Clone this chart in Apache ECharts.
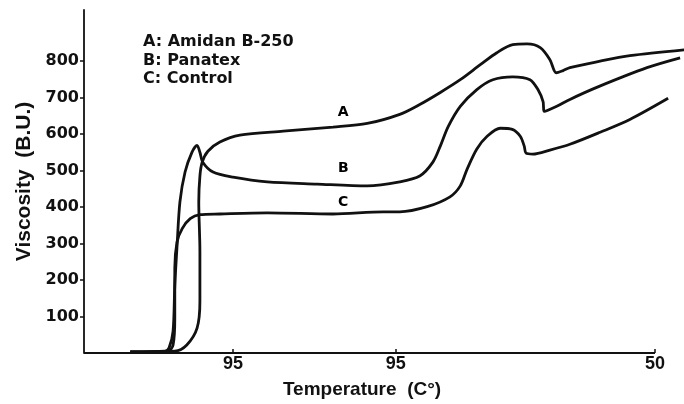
<!DOCTYPE html>
<html>
<head>
<meta charset="utf-8">
<title>Viscosity</title>
<script src="https://cdn.jsdelivr.net/npm/echarts@6/dist/echarts.min.js"></script>
<style>
  html, body { margin: 0; padding: 0; background: #fff; }
  #chart { width: 684px; height: 404px; }
</style>
</head>
<body>
<div id="chart"></div>
<script>
// x is elapsed time of the amylogram run (arbitrary units, 0..100 = drawn axis length)
var seriesLetters = ['A', 'B', 'C']
var seriesNames = ['Amidan B-250', 'Panatex', 'Control']

var amidanA = [
  [8.1, 3], [15.9, 5], [18.0, 22], [19.8, 68], [20.3, 142], [20.3, 278],
  [20.1, 414], [20.3, 485], [20.7, 523], [21.7, 553], [23.8, 578], [27.3, 597],
  [34.9, 608], [43.6, 619], [49.6, 629], [55.3, 654], [58.8, 681], [62.4, 714],
  [65.9, 749], [69.4, 790], [72.3, 823], [75.1, 845], [77.6, 847], [79.9, 837],
  [81.6, 804], [82.7, 768], [83.9, 774], [85.1, 782], [89.8, 798], [95.6, 815],
  [105.1, 831]
]

var panatexB = [
  [8.1, 3], [14.2, 5], [14.9, 14], [15.6, 60], [15.9, 185], [16.3, 294],
  [16.8, 414], [17.7, 496], [18.9, 550], [19.8, 569], [20.3, 550], [20.8, 523],
  [22.6, 496], [26.1, 482], [32.1, 469], [40.8, 463], [49.6, 458], [55.3, 469],
  [58.8, 485], [61.1, 523], [62.4, 567], [63.8, 621], [65.9, 676], [68.8, 722],
  [71.6, 749], [75.1, 757], [78.1, 749], [79.5, 722], [80.4, 689], [80.6, 662],
  [82.8, 676], [85.1, 695], [89.8, 728], [98.6, 782], [104.4, 809]
]

var controlC = [
  [8.1, 3], [14.7, 5], [15.6, 22], [15.9, 95], [15.9, 232], [16.3, 305],
  [17.2, 341], [18.6, 368], [20.3, 379], [23.8, 381], [32.1, 384], [43.6, 381],
  [52.4, 387], [55.3, 387], [60.1, 401], [64.1, 428], [65.9, 458], [67.1, 504],
  [68.8, 559], [70.6, 594], [72.9, 616], [75.0, 613], [76.4, 594], [77.1, 567],
  [77.4, 548], [78.6, 545], [81.6, 556], [85.1, 572], [90.4, 605], [95.6, 640],
  [102.3, 698]
]

// where the A / B / C letters sit along the curves
var letterSpots = [[45.4, 659], [45.4, 507], [45.4, 414]]

var tempTicks = [26.1, 54.6, 100]
var tempLabels = ['95', '95', '50']
var axisEnd = 100
var viscTicks = [100, 200, 300, 400, 500, 600, 700, 800]

var chart = echarts.init(document.getElementById('chart'))

var curves = [amidanA, panatexB, controlC]
var series = curves.map(function (data, i) {
  return {
    name: seriesNames[i],
    type: 'line',
    data: data,
    smooth: 0.3,
    symbol: 'none',
    lineStyle: { color: '#111', width: 2.8 }
  }
})

// the printed x axis stops short of the plot edge, curves run on past it
series[0].markLine = {
  silent: true,
  symbol: 'none',
  label: { show: false },
  lineStyle: { type: 'solid', color: '#111', width: 1.8 },
  data: [[{ coord: [0, 0] }, { coord: [axisEnd, 0] }]]
}

series.push({
  type: 'scatter',
  data: letterSpots.map(function (p, i) {
    return { value: p, name: seriesLetters[i] }
  }),
  symbolSize: 0,
  itemStyle: { opacity: 1 },
  label: {
    show: true,
    position: 'inside',
    formatter: '{b}',
    color: '#000',
    opacity: 1,
    fontFamily: 'DejaVu Sans',
    fontWeight: 'bold',
    fontSize: 14
  },
  silent: true
})

var legendText = seriesLetters.map(function (l, i) {
  return {
    type: 'text',
    left: 143,
    top: 34 + i * 18.5,
    style: {
      text: l + ': ' + seriesNames[i],
      fill: '#111',
      font: 'bold 16px "DejaVu Sans"'
    }
  }
})

chart.setOption({
  backgroundColor: '#fff',
  animation: false,
  grid: { left: 84, right: 0, top: 10, bottom: 50 },
  graphic: legendText,
  xAxis: {
    type: 'value',
    min: 0,
    max: 105.08,
    name: 'Temperature  (C°)',
    nameLocation: 'middle',
    nameGap: 27,
    nameTextStyle: {
      color: '#111',
      fontFamily: 'Liberation Sans',
      fontWeight: 'bold',
      fontSize: 19,
      padding: [0, 44, 0, 0]
    },
    splitLine: { show: false },
    axisLine: { show: false },
    axisTick: {
      show: true,
      inside: true,
      length: 4,
      customValues: tempTicks,
      lineStyle: { color: '#111', width: 1.5 }
    },
    axisLabel: {
      customValues: tempTicks,
      margin: 2,
      color: '#111',
      fontFamily: 'Liberation Sans',
      fontWeight: 'bold',
      fontSize: 18,
      formatter: function (v) {
        var k = tempTicks.indexOf(v)
        return k >= 0 ? tempLabels[k] : ''
      }
    }
  },
  yAxis: {
    type: 'value',
    min: 0,
    max: 940,
    name: 'Viscosity  (B.U.)',
    nameLocation: 'middle',
    nameGap: 46,
    nameTextStyle: {
      color: '#111',
      fontFamily: 'Liberation Sans',
      fontWeight: 'bold',
      fontSize: 21
    },
    splitLine: { show: false },
    axisLine: { show: true, lineStyle: { color: '#111', width: 1.8 } },
    axisTick: {
      length: 4,
      customValues: viscTicks,
      lineStyle: { color: '#111', width: 1.5 }
    },
    axisLabel: {
      customValues: viscTicks,
      margin: 5,
      color: '#111',
      fontFamily: 'DejaVu Sans',
      fontWeight: 'bold',
      fontSize: 16
    }
  },
  series: series
})
</script>
</body>
</html>
